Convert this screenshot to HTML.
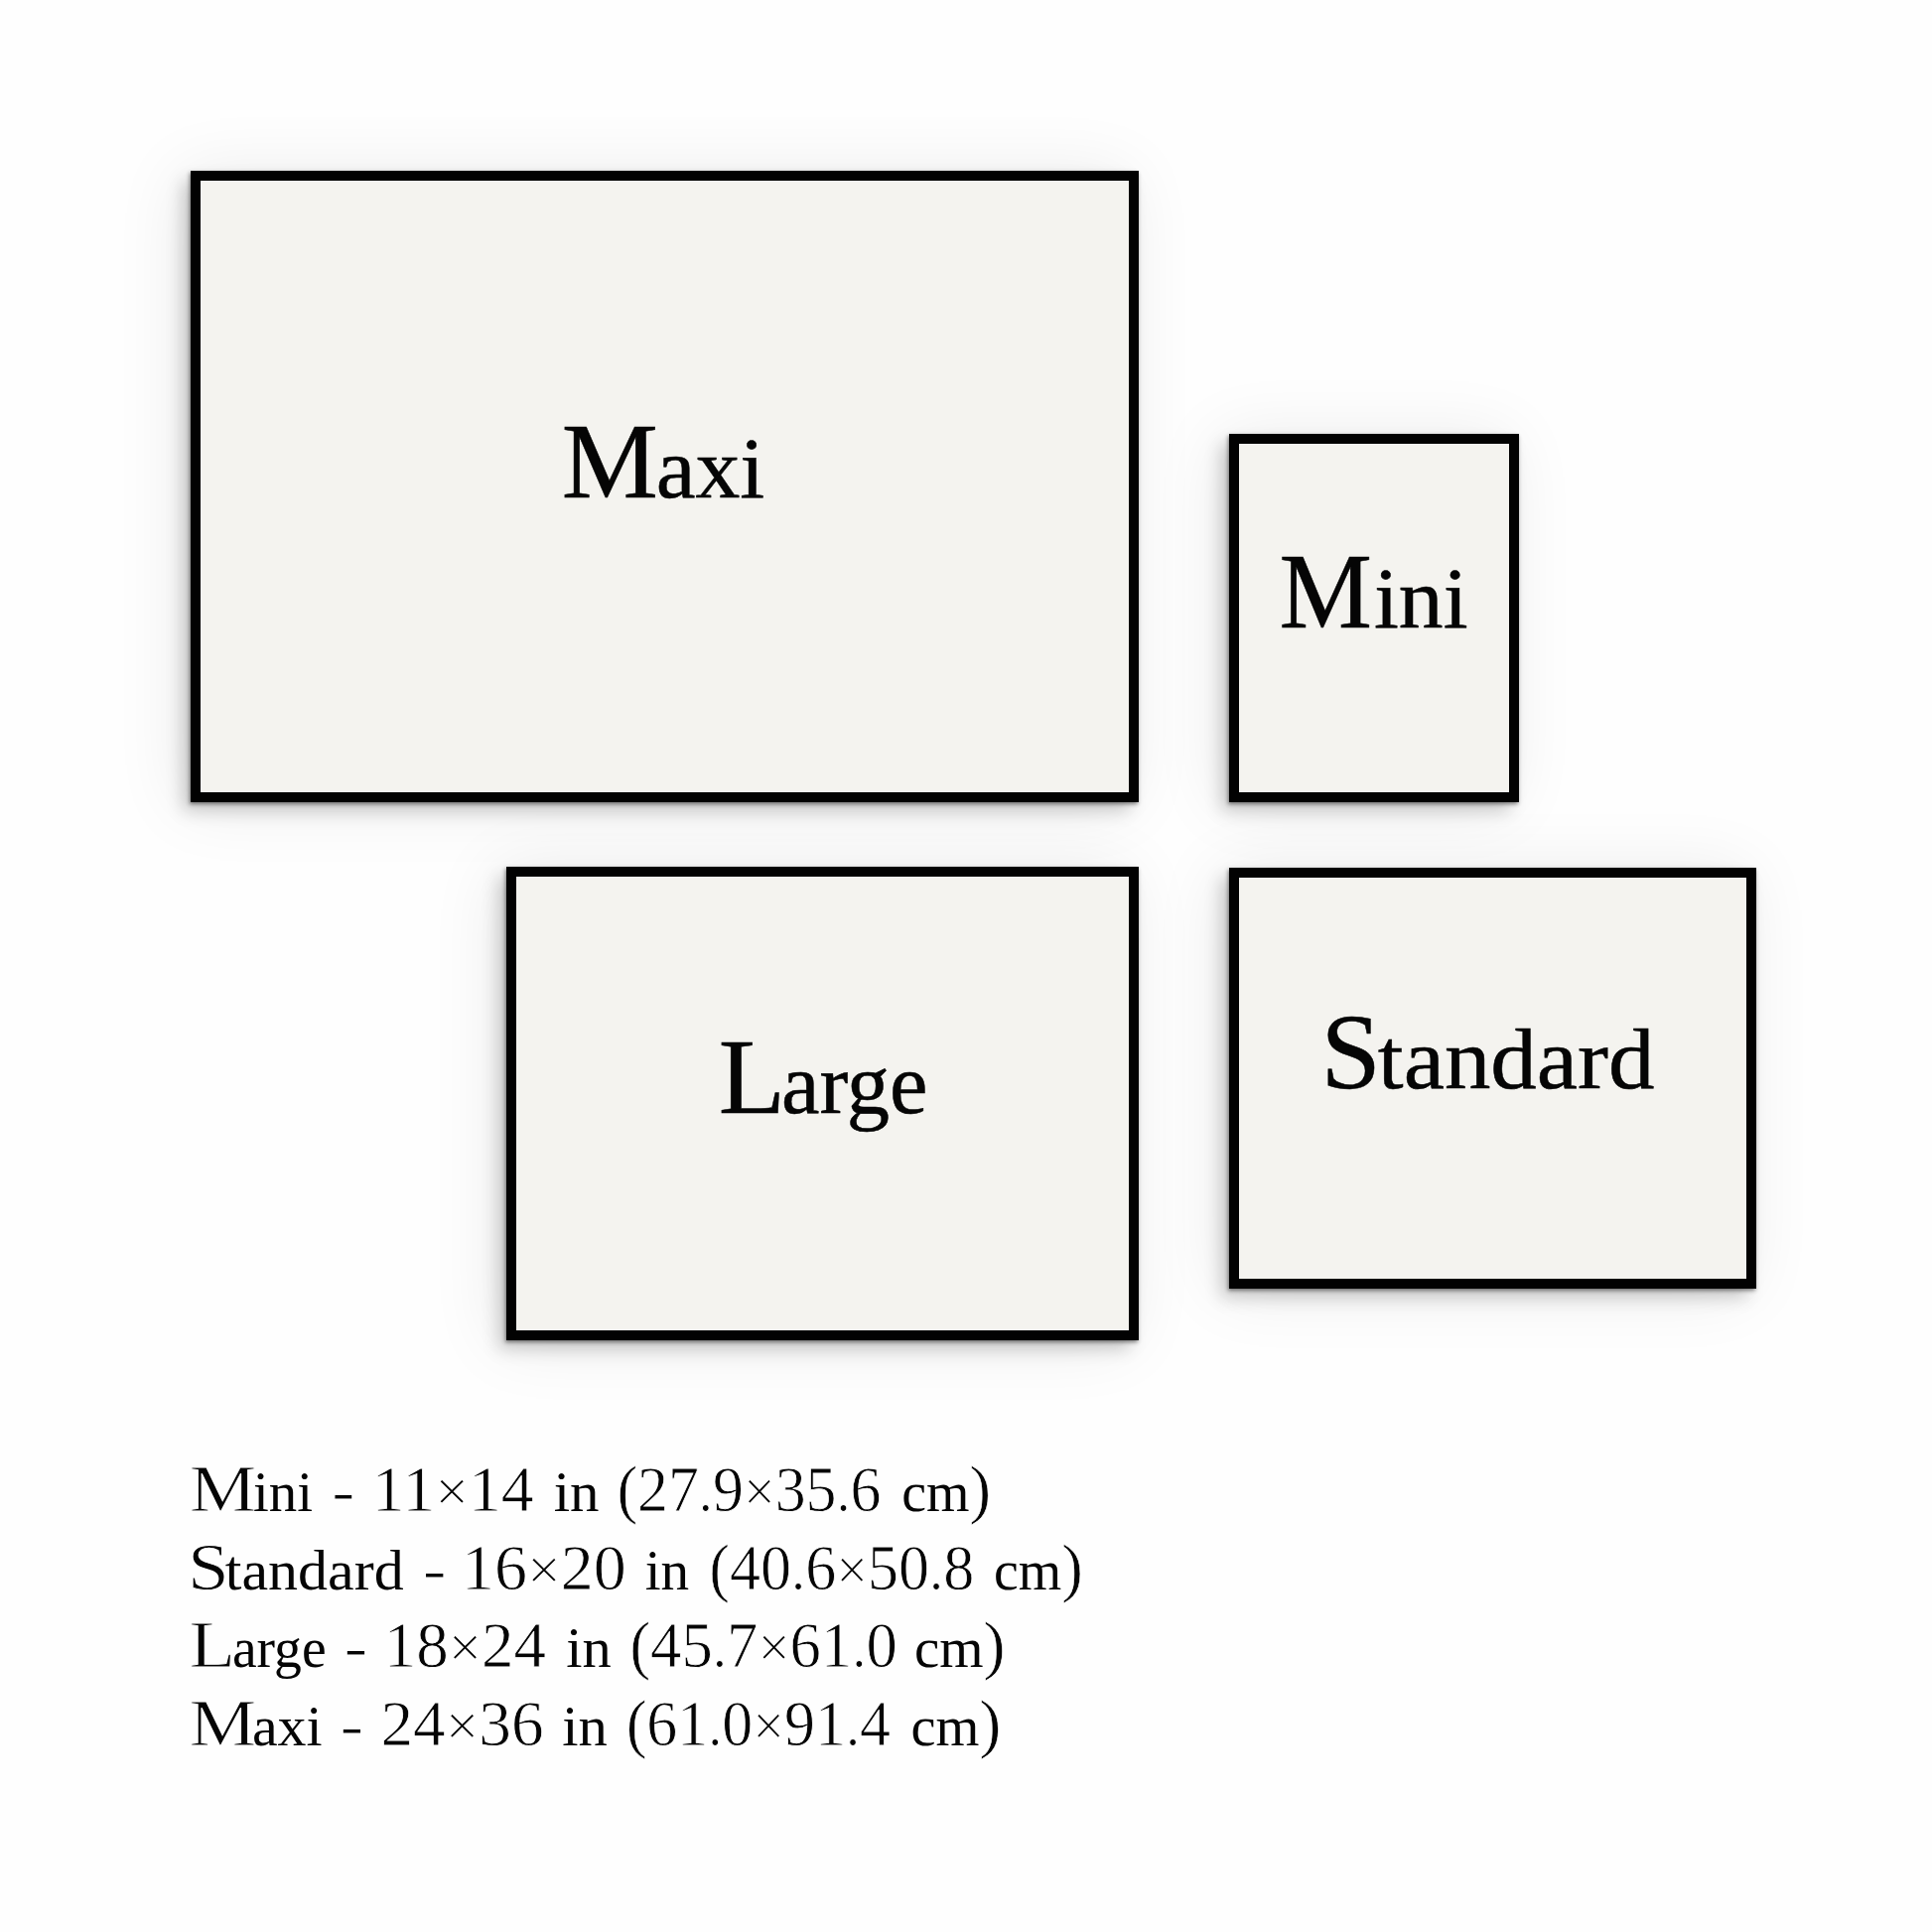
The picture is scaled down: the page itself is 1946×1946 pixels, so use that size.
<!DOCTYPE html>
<html>
<head>
<meta charset="utf-8">
<style>
html,body{margin:0;padding:0;}
body{width:1946px;height:1946px;background:#fefefe;position:relative;overflow:hidden;font-family:"Liberation Serif",serif;}
.f{position:absolute;box-sizing:border-box;border:10px solid #020202;background:#f4f3ef;box-shadow:-0.8px 2.25px 3.9px rgba(0,0,0,0.458),-7.6px 10.4px 16.7px rgba(0,0,0,0.19),-10.2px 2.9px 65.8px rgba(0,0,0,0.082);}
svg{position:absolute;left:0;top:0;}
#wrap{position:absolute;left:0;top:0;width:1946px;height:1946px;}
</style>
</head>
<body>
<div id="wrap">
<div class="f" style="left:192px;top:172px;width:955px;height:636px;"></div>
<div class="f" style="left:1238px;top:437px;width:292px;height:371px;"></div>
<div class="f" style="left:510px;top:873px;width:637px;height:477px;"></div>
<div class="f" style="left:1238px;top:874px;width:531px;height:424px;"></div>
<svg width="1946" height="1946" viewBox="0 0 1946 1946">
<g fill="#050505" font-family="Liberation Serif">
<text transform="translate(190.63 1521.80) scale(1.1173 1)"><tspan font-size="68" stroke="#fefefe" stroke-width="1.0">M</tspan></text>
<text transform="translate(254.98 1521.80) scale(1.0158 1)"><tspan font-size="56">ini</tspan></text>
<text transform="translate(334.13 1521.80) scale(1.1571 1)"><tspan font-size="60" stroke="#fefefe" stroke-width="1.0">-</tspan></text>
<text transform="translate(374.71 1521.80) scale(0.9981 1)"><tspan font-size="66" stroke="#fefefe" stroke-width="0.8">11</tspan><tspan font-size="60" stroke="#fefefe" stroke-width="1.0">×</tspan><tspan font-size="66" stroke="#fefefe" stroke-width="0.8">14</tspan></text>
<text transform="translate(557.75 1521.80) scale(1.0524 1)"><tspan font-size="56">in</tspan></text>
<text transform="translate(621.69 1521.80) scale(0.9378 1)"><tspan font-size="65" stroke="#fefefe" stroke-width="0.6">(</tspan><tspan font-size="66" stroke="#fefefe" stroke-width="0.8">27</tspan><tspan font-size="60" stroke="#fefefe" stroke-width="1.0">.</tspan><tspan font-size="66" stroke="#fefefe" stroke-width="0.8">9</tspan><tspan font-size="60" stroke="#fefefe" stroke-width="1.0">×</tspan><tspan font-size="66" stroke="#fefefe" stroke-width="0.8">35</tspan><tspan font-size="60" stroke="#fefefe" stroke-width="1.0">.</tspan><tspan font-size="66" stroke="#fefefe" stroke-width="0.8">6</tspan></text>
<text transform="translate(908.20 1521.80) scale(0.9976 1)"><tspan font-size="56">cm</tspan><tspan font-size="65" stroke="#fefefe" stroke-width="0.6">)</tspan></text>
<text transform="translate(189.08 1600.80) scale(1.1036 1)"><tspan font-size="68" stroke="#fefefe" stroke-width="1.0">S</tspan></text>
<text transform="translate(226.83 1600.80) scale(1.0711 1)"><tspan font-size="56">tandard</tspan></text>
<text transform="translate(425.72 1600.80) scale(1.1929 1)"><tspan font-size="60" stroke="#fefefe" stroke-width="1.0">-</tspan></text>
<text transform="translate(465.00 1600.80) scale(1.0000 1)"><tspan font-size="66" stroke="#fefefe" stroke-width="0.8">16</tspan><tspan font-size="60" stroke="#fefefe" stroke-width="1.0">×</tspan><tspan font-size="66" stroke="#fefefe" stroke-width="0.8">20</tspan></text>
<text transform="translate(649.68 1600.80) scale(1.0214 1)"><tspan font-size="56">in</tspan></text>
<text transform="translate(714.58 1600.80) scale(0.9408 1)"><tspan font-size="65" stroke="#fefefe" stroke-width="0.6">(</tspan><tspan font-size="66" stroke="#fefefe" stroke-width="0.8">40</tspan><tspan font-size="60" stroke="#fefefe" stroke-width="1.0">.</tspan><tspan font-size="66" stroke="#fefefe" stroke-width="0.8">6</tspan><tspan font-size="60" stroke="#fefefe" stroke-width="1.0">×</tspan><tspan font-size="66" stroke="#fefefe" stroke-width="0.8">50</tspan><tspan font-size="60" stroke="#fefefe" stroke-width="1.0">.</tspan><tspan font-size="66" stroke="#fefefe" stroke-width="0.8">8</tspan></text>
<text transform="translate(1001.00 1600.80) scale(0.9976 1)"><tspan font-size="56">cm</tspan><tspan font-size="65" stroke="#fefefe" stroke-width="0.6">)</tspan></text>
<text transform="translate(190.52 1679.30) scale(1.1212 1)"><tspan font-size="68" stroke="#fefefe" stroke-width="1.0">L</tspan></text>
<text transform="translate(233.91 1679.30) scale(0.9934 1)"><tspan font-size="56">arge</tspan></text>
<text transform="translate(346.42 1679.30) scale(1.1929 1)"><tspan font-size="60" stroke="#fefefe" stroke-width="1.0">-</tspan></text>
<text transform="translate(386.70 1679.30) scale(0.9854 1)"><tspan font-size="66" stroke="#fefefe" stroke-width="0.8">18</tspan><tspan font-size="60" stroke="#fefefe" stroke-width="1.0">×</tspan><tspan font-size="66" stroke="#fefefe" stroke-width="0.8">24</tspan></text>
<text transform="translate(570.15 1679.30) scale(1.0452 1)"><tspan font-size="56">in</tspan></text>
<text transform="translate(634.55 1679.30) scale(0.9498 1)"><tspan font-size="65" stroke="#fefefe" stroke-width="0.6">(</tspan><tspan font-size="66" stroke="#fefefe" stroke-width="0.8">45</tspan><tspan font-size="60" stroke="#fefefe" stroke-width="1.0">.</tspan><tspan font-size="66" stroke="#fefefe" stroke-width="0.8">7</tspan><tspan font-size="60" stroke="#fefefe" stroke-width="1.0">×</tspan><tspan font-size="66" stroke="#fefefe" stroke-width="0.8">61</tspan><tspan font-size="60" stroke="#fefefe" stroke-width="1.0">.</tspan><tspan font-size="66" stroke="#fefefe" stroke-width="0.8">0</tspan></text>
<text transform="translate(920.96 1679.30) scale(1.0176 1)"><tspan font-size="56">cm</tspan><tspan font-size="65" stroke="#fefefe" stroke-width="0.6">)</tspan></text>
<text transform="translate(190.52 1758.00) scale(1.1212 1)"><tspan font-size="68" stroke="#fefefe" stroke-width="1.0">M</tspan></text>
<text transform="translate(253.93 1758.00) scale(1.0338 1)"><tspan font-size="56">axi</tspan></text>
<text transform="translate(342.44 1758.00) scale(1.1857 1)"><tspan font-size="60" stroke="#fefefe" stroke-width="1.0">-</tspan></text>
<text transform="translate(383.43 1758.00) scale(0.9900 1)"><tspan font-size="66" stroke="#fefefe" stroke-width="0.8">24</tspan><tspan font-size="60" stroke="#fefefe" stroke-width="1.0">×</tspan><tspan font-size="66" stroke="#fefefe" stroke-width="0.8">36</tspan></text>
<text transform="translate(566.15 1758.00) scale(1.0476 1)"><tspan font-size="56">in</tspan></text>
<text transform="translate(630.98 1758.00) scale(0.9387 1)"><tspan font-size="65" stroke="#fefefe" stroke-width="0.6">(</tspan><tspan font-size="66" stroke="#fefefe" stroke-width="0.8">61</tspan><tspan font-size="60" stroke="#fefefe" stroke-width="1.0">.</tspan><tspan font-size="66" stroke="#fefefe" stroke-width="0.8">0</tspan><tspan font-size="60" stroke="#fefefe" stroke-width="1.0">×</tspan><tspan font-size="66" stroke="#fefefe" stroke-width="0.8">91</tspan><tspan font-size="60" stroke="#fefefe" stroke-width="1.0">.</tspan><tspan font-size="66" stroke="#fefefe" stroke-width="0.8">4</tspan></text>
<text transform="translate(917.48 1758.00) scale(1.0082 1)"><tspan font-size="56">cm</tspan><tspan font-size="65" stroke="#fefefe" stroke-width="0.6">)</tspan></text>
<text transform="translate(565.84 500.70) scale(1.0213 1)" stroke="#050505" stroke-width="0.5"><tspan font-size="107">M</tspan></text>
<text transform="translate(660.67 500.70) scale(1.0430 1)" stroke="#050505" stroke-width="0.5"><tspan font-size="86">axi</tspan></text>
<text transform="translate(1288.45 632.20) scale(0.9831 1)" stroke="#050505" stroke-width="0.5"><tspan font-size="107">M</tspan></text>
<text transform="translate(1383.91 632.20) scale(1.0425 1)" stroke="#050505" stroke-width="0.5"><tspan font-size="86">ini</tspan></text>
<text transform="translate(723.71 1120.70) scale(1.0304 1)" stroke="#050505" stroke-width="0.5"><tspan font-size="107">L</tspan></text>
<text transform="translate(787.08 1120.70) scale(1.0071 1)" stroke="#050505" stroke-width="0.5"><tspan font-size="86">arge</tspan></text>
<text transform="translate(1330.61 1095.70) scale(1.0130 1)" stroke="#050505" stroke-width="0.5"><tspan font-size="107">S</tspan></text>
<text transform="translate(1387.82 1095.70) scale(1.0809 1)" stroke="#050505" stroke-width="0.5"><tspan font-size="86">tandard</tspan></text>
</g>
</svg>
</div>
</body>
</html>
